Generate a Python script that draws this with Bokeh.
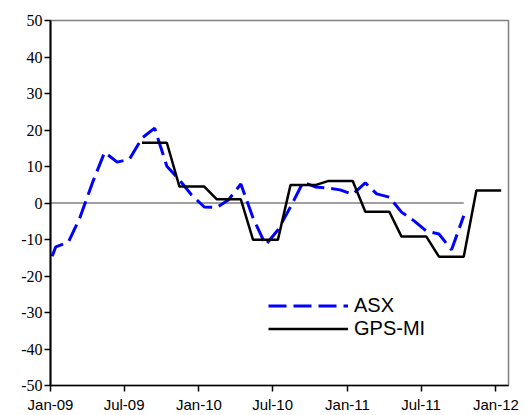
from datetime import datetime
import pandas as pd
from bokeh.plotting import figure
from bokeh.models import Range1d, FixedTicker, Legend, LegendItem
from bokeh.embed import file_html
from bokeh.resources import INLINE

# ---- data ----
asx_values = [-21.0,
              -12.0, -10.7, -4.1, 5.5, 13.9, 11.2, 12.0, 17.8, 20.5, 10.1, 6.3, 2.2,
              -1.1, -1.2, 0.8, 5.2, -4.1, -11.5, -7.4, -1.1, 5.7, 4.4, 4.1, 3.6,
              2.4, 5.5, 2.5, 1.6, -2.5, -4.9, -7.7, -8.5, -12.8, -3.5]
asx_dates = list(pd.date_range("2008-12-01", periods=len(asx_values), freq="MS") + pd.Timedelta(days=13))

gps_values = [16.5, 16.5, 16.5, 4.5, 4.5, 4.5, 1.0, 1.0, 1.0, -10.1, -10.1, -10.1,
              4.9, 4.9, 4.9, 6.0, 6.0, 6.0, -2.4, -2.4, -2.4, -9.2, -9.2, -9.2,
              -14.7, -14.7, -14.7, 3.4, 3.4, 3.4]
gps_dates = list(pd.date_range("2009-08-01", periods=len(gps_values), freq="MS") + pd.Timedelta(days=13))

x_tick_dates = [datetime(2009, 1, 1), datetime(2009, 7, 1), datetime(2010, 1, 1),
                datetime(2010, 7, 1), datetime(2011, 1, 1), datetime(2011, 7, 1),
                datetime(2012, 1, 1)]
x_tick_labels = ["Jan-09", "Jul-09", "Jan-10", "Jul-10", "Jan-11", "Jul-11", "Jan-12"]
y_ticks = [-50, -40, -30, -20, -10, 0, 10, 20, 30, 40, 50]
y_tick_labels = ["-50", "-40", "-30", "-20", "-10", "0", "10", "20", "30", "40", "50"]

SANS = "liberation sans"
SERIF = "liberation serif"

# ---- figure ----
p = figure(width=527, height=415, x_axis_type="datetime",
           output_backend="svg", toolbar_location=None,
           x_range=Range1d(datetime(2009, 1, 1), datetime(2012, 2, 1)),
           y_range=Range1d(-50, 50),
           min_border_left=50, min_border_right=19, min_border_top=20, min_border_bottom=29)
p.grid.visible = False
p.background_fill_color = "white"
p.border_fill_color = "white"
p.outline_line_color = "#808080"
p.outline_line_width = 1.5

def to_ms(d):
    return int(pd.Timestamp(d).value // 10**6)

x_ms = [to_ms(d) for d in x_tick_dates]
p.xaxis.ticker = FixedTicker(ticks=x_ms)
p.xaxis.major_label_overrides = {k: v for k, v in zip(x_ms, x_tick_labels)}
p.xaxis.major_label_text_font = SANS
p.xaxis.major_label_text_font_size = "15px"
p.xaxis.major_label_text_color = "black"
p.xaxis.axis_line_color = "black"
p.xaxis.axis_line_width = 1.5
p.xaxis.major_tick_line_color = "black"
p.xaxis.major_tick_line_width = 1.5
p.xaxis.major_tick_out = 6
p.xaxis.major_tick_in = 0
p.xaxis.minor_tick_line_color = None
p.xaxis.major_label_standoff = 4

p.yaxis.ticker = FixedTicker(ticks=y_ticks)
p.yaxis.major_label_overrides = {k: v for k, v in zip(y_ticks, y_tick_labels)}
p.yaxis.major_label_text_font = SERIF
p.yaxis.major_label_text_font_size = "16px"
p.yaxis.major_label_text_color = "black"
p.yaxis.axis_line_color = "black"
p.yaxis.axis_line_width = 2
p.yaxis.major_tick_line_color = "black"
p.yaxis.major_tick_line_width = 1.5
p.yaxis.major_tick_out = 6
p.yaxis.major_tick_in = 0
p.yaxis.minor_tick_line_color = None
p.yaxis.major_label_standoff = 2

# zero line spanning ASX data range
p.segment(x0=[asx_dates[0]], y0=[0], x1=[asx_dates[-1]], y1=[0],
          line_color="#808080", line_width=1.5)

r_asx = p.line(asx_dates, asx_values, line_color="#0000FF", line_width=3,
               line_dash="18 7")
r_gps = p.line(gps_dates, gps_values, line_color="black", line_width=2.5)

legend = Legend(items=[LegendItem(label="ASX", renderers=[r_asx]),
                       LegendItem(label="GPS-MI", renderers=[r_gps])],
                location=(218, 45), orientation="vertical")
legend.label_text_font = SANS
legend.label_text_font_size = "20px"
legend.label_text_color = "black"
legend.glyph_width = 80
legend.glyph_height = 19
legend.label_height = 19
legend.label_standoff = 6
legend.spacing = -3
legend.padding = 0
legend.margin = 0
legend.border_line_alpha = 0
legend.background_fill_alpha = 0
p.add_layout(legend, "center")

open("out.html", "w").write(file_html(p, INLINE))
